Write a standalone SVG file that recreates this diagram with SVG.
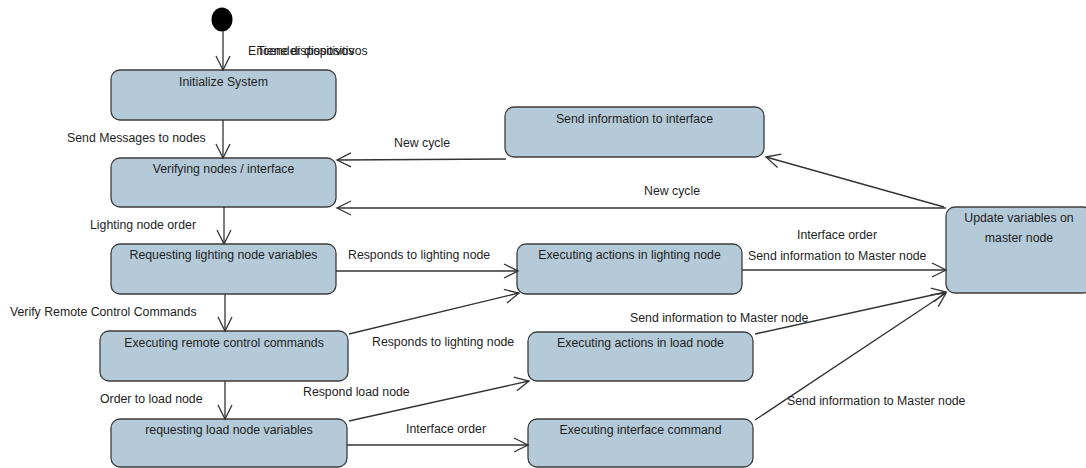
<svg xmlns="http://www.w3.org/2000/svg" width="1086" height="468" viewBox="0 0 1086 468">
<style>
.n rect{fill:#b4cad9;stroke:#3c3c3c;stroke-width:1.3}
text{font-family:"Liberation Sans",Arial,sans-serif;font-size:12.3px;fill:#1e1e1e}
.c{text-anchor:middle}
.e line{stroke:#333;stroke-width:1.3;marker-end:url(#arr)}
</style>
<defs>
<marker id="arr" markerUnits="userSpaceOnUse" markerWidth="18" markerHeight="18" viewBox="0 0 18 18" refX="16" refY="9" orient="auto">
<path d="M2,2 L16,9 L2,16" fill="none" stroke="#333" stroke-width="1.3"/>
</marker>
</defs>
<rect width="1086" height="468" fill="#fff"/>
<g id="start"><ellipse cx="222" cy="19.5" rx="10.5" ry="12" fill="#000"/></g>
<g id="initialize" class="n"><rect x="111" y="70" width="225" height="50" rx="9"/><text class="c" x="223.5" y="86">Initialize System</text></g>
<g id="verifying" class="n"><rect x="111" y="158" width="225" height="49" rx="9"/><text class="c" x="223.5" y="173">Verifying nodes / interface</text></g>
<g id="req-light" class="n"><rect x="111" y="244" width="225" height="50" rx="9"/><text class="c" x="223.5" y="259">Requesting lighting node variables</text></g>
<g id="exec-remote" class="n"><rect x="100" y="331" width="248" height="50" rx="9"/><text class="c" x="224" y="347">Executing remote control commands</text></g>
<g id="req-load" class="n"><rect x="111" y="419" width="236" height="48" rx="9"/><text class="c" x="229" y="434">requesting load node variables</text></g>
<g id="send-iface" class="n"><rect x="505" y="107" width="259" height="50" rx="9"/><text class="c" x="634.5" y="123">Send information to interface</text></g>
<g id="exec-light" class="n"><rect x="517" y="244" width="225" height="50" rx="9"/><text class="c" x="629.5" y="259">Executing actions in lighting node</text></g>
<g id="exec-load" class="n"><rect x="528" y="332" width="225" height="49" rx="9"/><text class="c" x="640.5" y="347">Executing actions in load node</text></g>
<g id="exec-iface" class="n"><rect x="528" y="419" width="225" height="48" rx="9"/><text class="c" x="640.5" y="434">Executing interface command</text></g>
<g id="update" class="n"><rect x="946" y="207" width="146" height="86" rx="9"/><text class="c" x="1019" y="222">Update variables on</text><text class="c" x="1019" y="242">master node</text></g>
<g id="connectors" class="e">
<line x1="223" y1="31" x2="223" y2="70"/>
<line x1="223" y1="120" x2="223" y2="158"/>
<line x1="224" y1="207" x2="224" y2="244"/>
<line x1="225" y1="294" x2="225" y2="331"/>
<line x1="225" y1="381" x2="225" y2="419"/>
<line x1="506" y1="159" x2="337" y2="160"/>
<line x1="946" y1="208" x2="337" y2="208"/>
<line x1="944" y1="207" x2="766" y2="157"/>
<line x1="336" y1="271" x2="518" y2="271"/>
<line x1="349" y1="334" x2="519" y2="293"/>
<line x1="742" y1="270" x2="946" y2="270"/>
<line x1="755" y1="334" x2="946" y2="292"/>
<line x1="755" y1="420" x2="946" y2="293"/>
<line x1="349" y1="421" x2="529" y2="381"/>
<line x1="347" y1="445" x2="528" y2="445"/>
</g>
<g id="labels">
<text x="248" y="55">Encender dispositivos</text>
<text x="257" y="55">Tiene dispositivos</text>
<text x="67" y="142">Send Messages to nodes</text>
<text x="394" y="147">New cycle</text>
<text x="644" y="195">New cycle</text>
<text x="90" y="229">Lighting node order</text>
<text x="10" y="316">Verify Remote Control Commands</text>
<text x="348" y="259">Responds to lighting node</text>
<text x="797" y="239">Interface order</text>
<text x="748" y="260">Send information to Master node</text>
<text x="630" y="322">Send information to Master node</text>
<text x="372" y="346">Responds to lighting node</text>
<text x="100" y="403">Order to load node</text>
<text x="303" y="396">Respond load node</text>
<text x="406" y="433">Interface order</text>
<text x="787" y="405">Send information to Master node</text>
</g>
</svg>
